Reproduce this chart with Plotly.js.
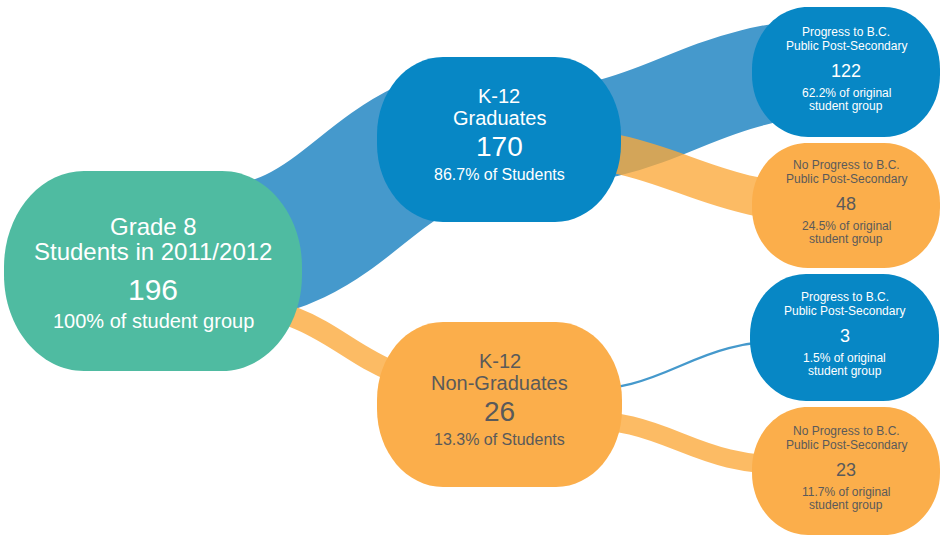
<!DOCTYPE html>
<html>
<head>
<meta charset="utf-8">
<script src="https://cdn.plot.ly/plotly-3.0.1.min.js"></script>
<style>html,body{margin:0;padding:0;background:#fff}#chart{width:951px;height:537px}</style>
</head>
<body>
<div id="chart"></div>
<script>
// ---------- DATA ----------
const nodeTitles = [
  ["Grade 8", "Students in 2011/2012"],
  ["K-12", "Graduates"],
  ["K-12", "Non-Graduates"],
  ["Progress to B.C.", "Public Post-Secondary"],
  ["No Progress to B.C.", "Public Post-Secondary"],
  ["Progress to B.C.", "Public Post-Secondary"],
  ["No Progress to B.C.", "Public Post-Secondary"]
];
const nodeValues = [196, 170, 26, 122, 48, 3, 23];
const nodeShares = [
  ["100% of student group"],
  ["86.7% of Students"],
  ["13.3% of Students"],
  ["62.2% of original", "student group"],
  ["24.5% of original", "student group"],
  ["1.5% of original", "student group"],
  ["11.7% of original", "student group"]
];
const nodeGroup = ["start", "yes", "no", "yes", "no", "yes", "no"];
const linkSource = [0, 0, 1, 1, 2, 2];
const linkTarget = [1, 2, 3, 4, 5, 6];
const linkValue  = [170, 26, 122, 48, 3, 23];

// ---------- LAYOUT / STYLE ----------
const nodeBox = [ // x0, y0, x1, y1, rx, ry (pixels of the 951x537 canvas)
  [4, 171, 302, 371, 80, 96],
  [377, 57, 621, 222, 66, 78],
  [377, 322, 622, 487, 66, 78],
  [752, 7, 940, 137, 56, 62],
  [752, 143, 940, 268, 56, 60],
  [750, 274, 939, 401, 56, 61],
  [752, 407, 940, 535, 56, 62]
];
const linkPath = [ // centreline: start x,y -> end x,y
  [200, 256, 520, 128],
  [220, 305, 470, 385],
  [500, 140, 860, 66],
  [520, 145, 850, 205],
  [560, 392, 800, 340],
  [560, 418, 800, 466]
];
const pxPerStudent = 0.8;
const nodeFill = {start: "#4fbba1", yes: "#0787c5", no: "#fbae4b"};
const textCol  = {start: "#ffffff", yes: "#ffffff", no: "#5a5a5a"};
const linkCol  = {yes: "#4599cc", no: "rgba(251,168,56,0.78)"};
const textStyle = { // [offset of baseline from centre, font size] per line
  big:   [[-36, 24], [-11, 24], [29, 30], [57, 20]],
  mid:   [[-37, 20], [-15, 20], [17, 28], [41, 16]],
  small: [[-36, 12], [-22, 12], [5, 18], [25, 12], [38, 12]]
};
const FONT = "'Liberation Sans', Arial, Helvetica, sans-serif";

function rounded(b) {
  const [x0, y0, x1, y1, rx, ry] = b, k = 0.5523;
  return `M${x0+rx},${y0} L${x1-rx},${y0} C${x1-rx+k*rx},${y0} ${x1},${y0+ry-k*ry} ${x1},${y0+ry} ` +
         `L${x1},${y1-ry} C${x1},${y1-ry+k*ry} ${x1-rx+k*rx},${y1} ${x1-rx},${y1} ` +
         `L${x0+rx},${y1} C${x0+rx-k*rx},${y1} ${x0},${y1-ry+k*ry} ${x0},${y1-ry} ` +
         `L${x0},${y0+ry} C${x0},${y0+ry-k*ry} ${x0+rx-k*rx},${y0} ${x0+rx},${y0} Z`;
}

const shapes = [];
// links: blue first, then orange on top
const order = linkValue.map((v, i) => i).sort((a, b) =>
  (nodeGroup[linkTarget[a]] === "no") - (nodeGroup[linkTarget[b]] === "no"));
order.forEach(i => {
  const [xs, ys, xe, ye] = linkPath[i], xm = (xs + xe) / 2;
  shapes.push({
    type: "path", xref: "x", yref: "y", layer: "above",
    path: `M${xs},${ys} C${xm},${ys} ${xm},${ye} ${xe},${ye}`,
    line: {color: linkCol[nodeGroup[linkTarget[i]]], width: linkValue[i] * pxPerStudent},
    fillcolor: "rgba(0,0,0,0)"
  });
});
// nodes
nodeBox.forEach((b, i) => {
  shapes.push({
    type: "path", xref: "x", yref: "y", layer: "above",
    path: rounded(b), fillcolor: nodeFill[nodeGroup[i]], line: {width: 0}
  });
});

const annotations = [];
nodeBox.forEach((b, i) => {
  const cx = (b[0] + b[2]) / 2, cy = (b[1] + b[3]) / 2;
  const lines = [...nodeTitles[i], String(nodeValues[i]), ...nodeShares[i]];
  const st = i === 0 ? textStyle.big : (i < 3 ? textStyle.mid : textStyle.small);
  lines.forEach((t, j) => {
    const [off, fs] = st[j];
    annotations.push({
      xref: "x", yref: "y", x: cx, y: cy + off - 0.35 * fs,
      text: t, showarrow: false, xanchor: "center", yanchor: "middle",
      font: {family: FONT, size: fs, color: textCol[nodeGroup[i]]}
    });
  });
});

const data = [{
  type: "scatter", mode: "markers", hoverinfo: "none",
  x: [], y: [], marker: {opacity: 0}, showlegend: false
}];

const layout = {
  width: 951, height: 537,
  margin: {l: 0, r: 0, t: 0, b: 0},
  paper_bgcolor: "#ffffff", plot_bgcolor: "#ffffff",
  xaxis: {range: [0, 951], visible: false, fixedrange: true},
  yaxis: {range: [537, 0], visible: false, fixedrange: true},
  shapes: shapes, annotations: annotations, showlegend: false,
  font: {family: FONT}
};

Plotly.newPlot("chart", data, layout, {displayModeBar: false, staticPlot: true});
</script>
</body>
</html>
